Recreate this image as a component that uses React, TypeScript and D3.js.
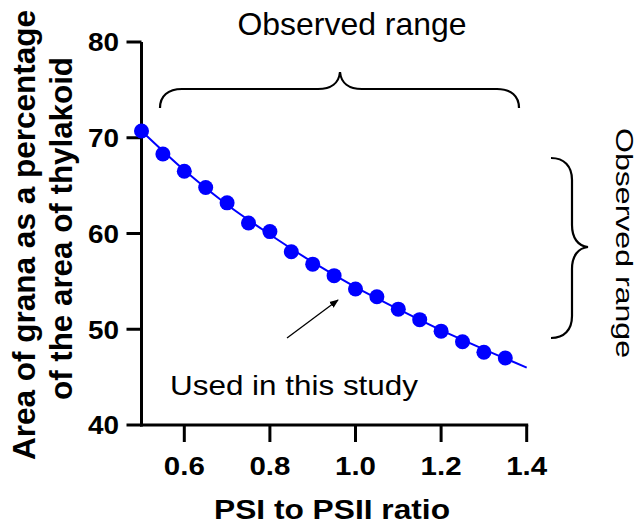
import React from "react";
import * as d3 from "d3";

const ratioX = [0.5, 0.55, 0.6, 0.65, 0.7, 0.75, 0.8, 0.85, 0.9, 0.95, 1.0, 1.05, 1.1, 1.15, 1.2, 1.25, 1.3, 1.35];
const granaPct = [70.7, 68.3, 66.5, 64.8, 63.2, 61.1, 60.2, 58.1, 56.8, 55.6, 54.2, 53.4, 52.1, 51.0, 49.8, 48.7, 47.6, 47.0];
const fitX = [0.5, 0.6, 0.7, 0.8, 0.9, 1.0, 1.1, 1.2, 1.3, 1.4];
const fitY = [70.7, 66.6, 63.0, 59.9, 57.0, 54.4, 52.1, 49.9, 47.9, 46.0];
const xTicks = [0.6, 0.8, 1.0, 1.2, 1.4];
const yTicks = [40, 50, 60, 70, 80];
const xTitle = "PSI to PSII ratio";
const yTitle1 = "Area of grana as a percentage";
const yTitle2 = "of the area of thylakoid";
const rangeLabel = "Observed range";
const studyLabel = "Used in this study";

const FONT = "Arial, 'Liberation Sans', Helvetica, sans-serif";

export default function App() {
  const x = d3.scaleLinear().domain([0.5, 1.4]).range([141.5, 526.7]);
  const y = d3.scaleLinear().domain([40, 80]).range([425, 42]);
  const line = d3
    .line<number>()
    .x((d, i) => x(fitX[i]))
    .y((d) => y(d))
    .curve(d3.curveMonotoneX);

  const topBrace =
    "M160,108 C160,96 168,89 182,89 L318,89 C331,89 339,83 340,72 C341,83 349,89 362,89 L497,89 C511,89 519,96 519,108";
  const rightBrace =
    "M551,158 C564,158 572,166 572,180 L572,225 C572,238 578,246 588,247 C578,248 572,256 572,269 L572,316 C572,330 564,338 551,338";

  return (
    <svg
      width={644}
      height={531}
      style={{ position: "absolute", left: 0, top: 0, background: "#fff" }}
      fontFamily={FONT}
    >
      <defs>
        <marker id="ah" viewBox="0 0 10 10" refX="9" refY="5" markerWidth="7" markerHeight="7" orient="auto">
          <path d="M0,1 L10,5 L0,9 z" fill="#000" />
        </marker>
      </defs>

      {/* axes */}
      <line x1={x(0.5)} x2={x(0.5)} y1={y(80)} y2={y(40) + 1.5} stroke="#000" strokeWidth={3} />
      <line x1={x(0.5) - 1.5} x2={x(1.4) + 1.5} y1={y(40)} y2={y(40)} stroke="#000" strokeWidth={3} />
      {yTicks.map((t) => (
        <g key={"y" + t}>
          <line x1={x(0.5) - 15} x2={x(0.5)} y1={y(t)} y2={y(t)} stroke="#000" strokeWidth={3} />
          <text
            x={119}
            y={y(t) + 9.3}
            textAnchor="end"
            fontSize={26}
            fontWeight="bold"
            textLength={31}
            lengthAdjust="spacingAndGlyphs"
          >
            {t}
          </text>
        </g>
      ))}
      {xTicks.map((t) => (
        <g key={"x" + t}>
          <line x1={x(t)} x2={x(t)} y1={y(40)} y2={y(40) + 17} stroke="#000" strokeWidth={3} />
          <text
            x={x(t)}
            y={475}
            textAnchor="middle"
            fontSize={26}
            fontWeight="bold"
            textLength={41}
            lengthAdjust="spacingAndGlyphs"
          >
            {t.toFixed(1)}
          </text>
        </g>
      ))}

      <text x={332} y={519} textAnchor="middle" fontSize={27} fontWeight="bold" textLength={236} lengthAdjust="spacingAndGlyphs">
        {xTitle}
      </text>
      <text transform="translate(35,235) rotate(-90)" textAnchor="middle" fontSize={31} fontWeight="bold" textLength={450} lengthAdjust="spacingAndGlyphs">
        {yTitle1}
      </text>
      <text transform="translate(72,228.5) rotate(-90)" textAnchor="middle" fontSize={31} fontWeight="bold" textLength={343} lengthAdjust="spacingAndGlyphs">
        {yTitle2}
      </text>

      {/* fit line and points */}
      <path d={line(fitY) || ""} fill="none" stroke="#0000ff" strokeWidth={2} />
      {ratioX.map((v, i) => (
        <circle key={i} cx={x(v)} cy={y(granaPct[i])} r={7.5} fill="#0000ff" />
      ))}

      {/* annotations */}
      <path d={topBrace} fill="none" stroke="#000" strokeWidth={2.2} />
      <text x={352} y={35} textAnchor="middle" fontSize={32} textLength={229} lengthAdjust="spacingAndGlyphs">
        {rangeLabel}
      </text>
      <path d={rightBrace} fill="none" stroke="#000" strokeWidth={2.2} />
      <text transform="translate(616,243) rotate(90)" textAnchor="middle" fontSize={24} textLength={230} lengthAdjust="spacingAndGlyphs">
        {rangeLabel}
      </text>
      <line x1={287} y1={338} x2={338} y2={300} stroke="#000" strokeWidth={1.3} markerEnd="url(#ah)" />
      <text x={170} y={395} fontSize={28} textLength={248} lengthAdjust="spacingAndGlyphs">
        {studyLabel}
      </text>
    </svg>
  );
}
